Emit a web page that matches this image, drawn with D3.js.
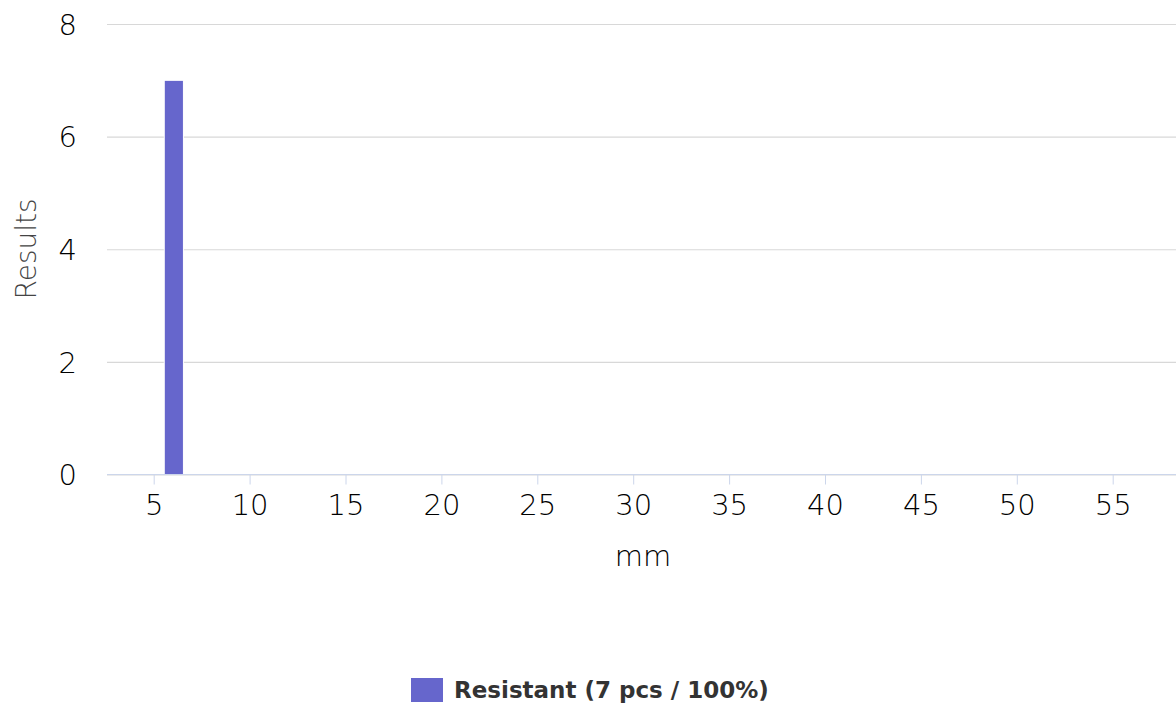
<!DOCTYPE html>
<html>
<head>
<meta charset="utf-8">
<script src="https://cdn.jsdelivr.net/npm/d3@7"></script>
<style>
  html, body { margin: 0; padding: 0; background: #fff; }
  svg { display: block; }
</style>
</head>
<body>
<svg id="chart" width="1176" height="714"></svg>
<script>
// ---- data ----
const binStarts = [5.55];
const binEnds = [6.55];
const counts = [7];
const seriesName = "Resistant (7 pcs / 100%)";
const xTicks = [5, 10, 15, 20, 25, 30, 35, 40, 45, 50, 55];
const yTicks = [0, 2, 4, 6, 8];
const xTitle = "mm";
const yTitle = "Results";

// ---- layout ----
const plotLeft = 107, plotRight = 1176;
const svg = d3.select("#chart");

const x = d3.scaleLinear().domain([5, 55]).range([153.7, 1112.7]);
const y = d3.scaleLinear().domain([0, 8]).range([474.5, 24]);
const font = "'DejaVu Sans', sans-serif";
const lightW = 200;

// gridlines
const yGrid = d3.axisLeft(y).tickValues(yTicks).tickSize(-(plotRight - plotLeft)).tickFormat("");
const gGrid = svg.append("g").attr("transform", `translate(${plotLeft},0)`).call(yGrid);
gGrid.select(".domain").remove();
gGrid.selectAll("line").attr("stroke", "#d8d8d8").attr("stroke-width", 1.2);

// y labels
const yAxis = d3.axisLeft(y).tickValues(yTicks).tickSize(0).tickPadding(0).tickFormat(d3.format("d"));
const gy = svg.append("g").attr("transform", `translate(77,1)`).call(yAxis);
gy.select(".domain").remove();
gy.selectAll("text").attr("font-family", font).attr("font-weight", lightW).attr("font-size", 29).attr("fill", "#000");

// bars
const bars = binStarts.map((s, i) => ({ x0: s, x1: binEnds[i], v: counts[i] }));
svg.append("g").selectAll("rect").data(bars).join("rect")
  .attr("x", d => x(d.x0))
  .attr("width", d => x(d.x1) - x(d.x0))
  .attr("y", d => y(d.v))
  .attr("height", d => y(0) - y(d.v))
  .attr("fill", "#6666cc")
  .attr("stroke", "#ffffff")
  .attr("stroke-width", 1);

// x axis
const xAxis = d3.axisBottom(x).tickValues(xTicks).tickSize(10).tickPadding(10).tickFormat(d3.format("d"));
const gx = svg.append("g").attr("transform", `translate(0,${y(0)})`).call(xAxis);
gx.select(".domain").remove();
gx.selectAll("line").attr("stroke", "#ccd6eb");
gx.selectAll("text").attr("font-family", font).attr("font-weight", lightW).attr("font-size", 29).attr("fill", "#000");
svg.append("line")
  .attr("x1", plotLeft).attr("x2", plotRight)
  .attr("y1", y(0)).attr("y2", y(0))
  .attr("stroke", "#ccd6eb").attr("stroke-width", 1.2);

// axis titles
svg.append("text")
  .attr("x", 643).attr("y", 566)
  .attr("text-anchor", "middle")
  .attr("font-family", font).attr("font-weight", lightW).attr("font-size", 29).attr("fill", "#000")
  .text(xTitle);
svg.append("text")
  .attr("transform", `translate(36,249) rotate(-90)`)
  .attr("text-anchor", "middle")
  .attr("font-family", font).attr("font-weight", lightW).attr("font-size", 28).attr("fill", "#444")
  .text(yTitle);

// legend
const lg = svg.append("g");
lg.append("rect").attr("x", 411).attr("y", 678).attr("width", 32).attr("height", 24).attr("fill", "#6666cc");
lg.append("text").attr("x", 454).attr("y", 698)
  .attr("font-family", font).attr("font-size", 23).attr("font-weight", "bold").attr("fill", "#333")
  .text(seriesName);
</script>
</body>
</html>
